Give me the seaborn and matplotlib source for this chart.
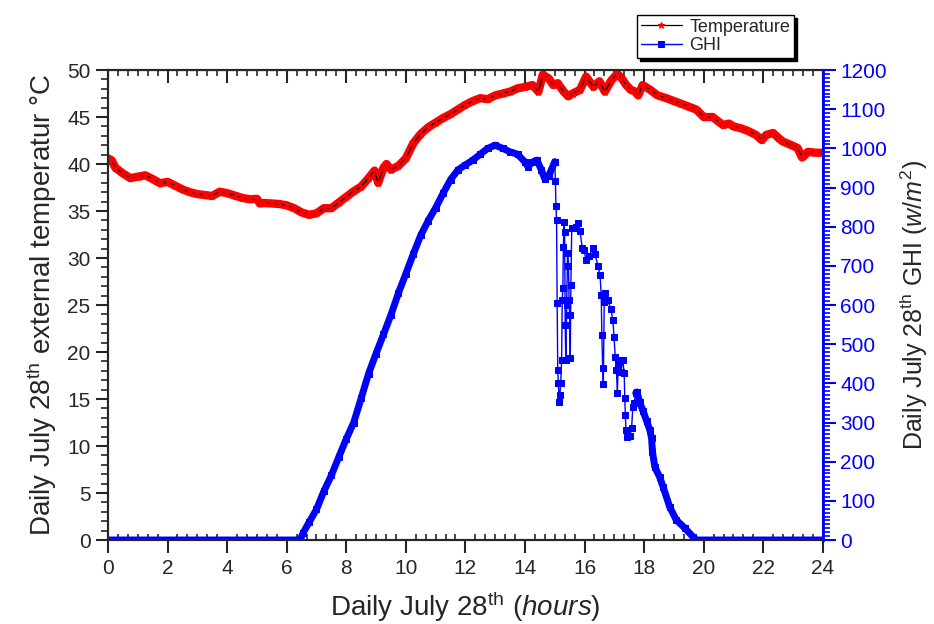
import matplotlib
matplotlib.use("Agg")
import matplotlib.pyplot as plt
import seaborn as sns
import numpy as np
from matplotlib.ticker import MultipleLocator

# temperature (deg C)
temp_hours = [0.00, 0.12, 0.25, 0.50, 0.75, 1.00, 1.25, 1.50, 1.75, 2.00, 2.25, 2.50, 2.75,
              3.00, 3.25, 3.50, 3.75, 4.00, 4.25, 4.50, 4.75, 5.00, 5.10, 5.25, 5.50, 5.75,
              6.00, 6.25, 6.50, 6.75, 7.00, 7.25, 7.50, 7.75, 8.00, 8.25, 8.50, 8.75, 8.95,
              9.07, 9.25, 9.35, 9.50, 9.75, 10.00, 10.25, 10.50, 10.75, 11.00, 11.25, 11.50,
              11.75, 12.00, 12.25, 12.50, 12.75, 13.00, 13.25, 13.50, 13.75, 14.00, 14.25,
              14.45, 14.60, 14.80, 14.95, 15.10, 15.30, 15.45, 15.60, 15.85, 16.05, 16.30,
              16.50, 16.68, 16.90, 17.10, 17.25, 17.40, 17.55, 17.70, 17.80, 17.95, 18.20,
              18.45, 18.75, 19.00, 19.25, 19.50, 19.75, 20.00, 20.30, 20.50, 20.65, 20.85,
              21.00, 21.25, 21.50, 21.75, 21.95, 22.10, 22.33, 22.50, 22.65, 22.95, 23.15,
              23.30, 23.35, 23.50, 23.75, 24.00]
temp_values = [40.6, 40.4, 39.6, 39.0, 38.5, 38.65, 38.8, 38.4, 37.95, 38.1, 37.7, 37.3, 37.0,
               36.8, 36.7, 36.6, 37.05, 36.9, 36.65, 36.4, 36.25, 36.3, 35.8, 35.85, 35.8, 35.75,
               35.6, 35.3, 34.85, 34.6, 34.75, 35.3, 35.3, 35.9, 36.5, 37.1, 37.6, 38.5, 39.3,
               38.0, 39.6, 40.0, 39.4, 39.8, 40.6, 42.2, 43.2, 43.9, 44.4, 44.9, 45.3,
               45.8, 46.3, 46.7, 47.0, 46.9, 47.3, 47.5, 47.7, 48.05, 48.2, 48.4,
               47.7, 49.5, 49.1, 48.4, 48.6, 47.7, 47.2, 47.5, 47.9, 49.3, 48.2,
               48.8, 47.7, 48.9, 49.6, 49.1, 48.4, 47.9, 47.7, 47.3, 48.4, 47.9,
               47.3, 47.0, 46.7, 46.4, 46.1, 45.8, 45.0, 45.0, 44.5, 44.15, 44.3,
               44.0, 43.8, 43.5, 43.1, 42.55, 43.1, 43.3, 42.8, 42.4, 42.0, 41.7,
               40.7, 40.8, 41.3, 41.2, 41.2]

# GHI (W/m2): clear morning, cloudy afternoon, clear evening
ghi_hours_am = [0.0, 2.0, 4.0, 6.0, 6.45, 6.55, 6.75, 7.0, 7.25, 7.5, 7.75, 8.0, 8.25, 8.5,
                8.75, 9.0, 9.25, 9.5, 9.75, 10.0, 10.25, 10.5, 10.75, 11.0, 11.25, 11.5,
                11.75, 12.0, 12.25, 12.5, 12.75, 13.0, 13.25, 13.5, 13.75, 14.0, 14.1, 14.25,
                14.4, 14.55, 14.66, 14.8, 15.0]
ghi_am = [0, 0, 0, 0, 0, 18, 45, 78, 125, 165, 212, 258, 300, 362,
          425, 476, 525, 575, 630, 680, 730, 778, 815, 848, 885, 920,
          945, 958, 970, 985, 1000, 1008, 1000, 991, 985, 965, 953, 965,
          970, 945, 923, 930, 966]
ghi_hours_cloud = [15.00, 15.02, 15.04, 15.06, 15.08, 15.10, 15.12, 15.15, 15.17, 15.20, 15.23,
                   15.25, 15.27, 15.29, 15.31, 15.33, 15.35, 15.37, 15.40, 15.43, 15.46, 15.48,
                   15.50, 15.52, 15.54, 15.57, 15.63, 15.70, 15.78, 15.85, 15.92, 15.98, 16.05,
                   16.15, 16.27, 16.35, 16.45, 16.52, 16.56, 16.58, 16.61, 16.63, 16.66, 16.70,
                   16.78, 16.88, 16.95, 16.99, 17.03, 17.07, 17.10, 17.13, 17.17, 17.22, 17.28,
                   17.33, 17.35, 17.37, 17.39, 17.44, 17.52, 17.58, 17.62, 17.66, 17.72]
ghi_cloud = [966, 917, 853, 817, 605, 434, 401, 352, 370, 401, 460,
             613, 643, 748, 812, 786, 549, 460, 600, 733, 700, 613,
             574, 465, 651, 797, 797, 800, 809, 790, 745, 740, 715,
             725, 745, 730, 700, 677, 625, 523, 439, 398, 608, 631,
             613, 590, 562, 518, 467, 434, 375, 450, 460, 430, 460,
             426, 363, 319, 281, 263, 265, 286, 340, 350, 375]
ghi_hours_pm = [17.72, 17.76, 17.85, 17.96, 18.08, 18.19, 18.25, 18.28, 18.36, 18.52, 18.64,
                18.86, 19.08, 19.36, 19.64, 19.75, 20.0, 22.0, 24.0]
ghi_pm = [375, 378, 352, 330, 305, 281, 260, 225, 186, 161, 135,
          84, 51, 31, 8, 0, 0, 0, 0]

sns.set_style("ticks")
plt.rcParams['font.family'] = ['Liberation Sans', 'DejaVu Sans']
plt.rcParams['mathtext.fontset'] = 'custom'
plt.rcParams['mathtext.rm'] = 'Liberation Sans'
plt.rcParams['mathtext.it'] = 'Liberation Sans:italic'

fig, ax = plt.subplots(figsize=(9.34, 6.24), dpi=100)
fig.subplots_adjust(left=0.1156, right=0.881, top=0.8878, bottom=0.1346)
ax2 = ax.twinx()

# temperature: red marker band with thin black line
sns.lineplot(x=temp_hours, y=temp_values, ax=ax, color='red', lw=6, sort=False, estimator=None)
sns.lineplot(x=temp_hours, y=temp_values, ax=ax, color='black', lw=0.9, sort=False, estimator=None,
             marker='*', markersize=5, markerfacecolor='red', markeredgecolor='red',
             label='Temperature')

# GHI
for hrs, vals in [(ghi_hours_am, ghi_am), (ghi_hours_pm, ghi_pm)]:
    sns.lineplot(x=hrs, y=vals, ax=ax2, color='blue', lw=5, sort=False, estimator=None,
                 marker='s', markersize=4, markeredgecolor='blue')
sns.lineplot(x=ghi_hours_cloud, y=ghi_cloud, ax=ax2, color='blue', lw=1, sort=False,
             estimator=None, marker='s', markersize=4, markeredgecolor='blue', label='GHI')

ax.set_xlim(0, 24)
ax.set_ylim(0, 50)
ax2.set_ylim(0, 1200)
ax.set_xticks(np.arange(0, 25, 2))
ax.set_yticks(np.arange(0, 51, 5))
ax2.set_yticks(np.arange(0, 1201, 100))
ax.xaxis.set_minor_locator(MultipleLocator(1 / 3))
ax.yaxis.set_minor_locator(MultipleLocator(1))
ax2.yaxis.set_minor_locator(MultipleLocator(10))

ax.tick_params(axis='x', which='major', direction='out', length=9, width=1.5, labelsize=15, pad=5)
ax.tick_params(axis='x', which='minor', direction='in', length=4, width=1.2)
ax.tick_params(axis='y', which='major', direction='out', length=9, width=1.5, labelsize=15)
ax.tick_params(axis='y', which='minor', direction='out', length=5, width=1.2)
ax2.tick_params(axis='y', which='major', direction='out', length=9, width=1.5, labelsize=15,
                colors='blue')
ax2.tick_params(axis='y', which='minor', direction='out', length=5, width=1.2, colors='blue')

top = ax.secondary_xaxis('top')
top.set_xticks(np.arange(0, 25, 2))
top.xaxis.set_minor_locator(MultipleLocator(1 / 3))
top.tick_params(which='major', direction='in', length=9, width=1.5, labeltop=False)
top.tick_params(which='minor', direction='in', length=4, width=1.2)

for a in (ax, ax2):
    for s in a.spines.values():
        s.set_linewidth(1.5)
        s.set_visible(True)
ax2.spines['right'].set_color('blue')
ax2.spines['right'].set_linewidth(2)

ax.set_xlabel("Daily July 28$^{\\mathrm{th}}$ ($\\mathit{hours}$)", fontsize=20, labelpad=8)
ax.set_ylabel("Daily July 28$^{\\mathrm{th}}$ external temperatur \u00b0C", fontsize=20, labelpad=6)
ax2.set_ylabel("Daily July 28$^{\\mathrm{th}}$ GHI ($\\mathit{w/m}^{\\mathit{2}}$)", fontsize=18,
               labelpad=8)

h1, l1 = ax.get_legend_handles_labels()
h2, l2 = ax2.get_legend_handles_labels()
for a in (ax, ax2):
    if a.get_legend() is not None:
        a.get_legend().remove()
fig.legend(h1 + h2, l1 + l2, loc='upper left', bbox_to_anchor=(637 / 934, 1 - 15 / 624),
           fontsize=13, frameon=True, fancybox=False, edgecolor='black', framealpha=1,
           shadow={'color': 'black', 'alpha': 1}, borderpad=0.2, labelspacing=0.1,
           handlelength=2.3, handletextpad=0.4, borderaxespad=0)

fig.savefig("out.png", dpi=100)
